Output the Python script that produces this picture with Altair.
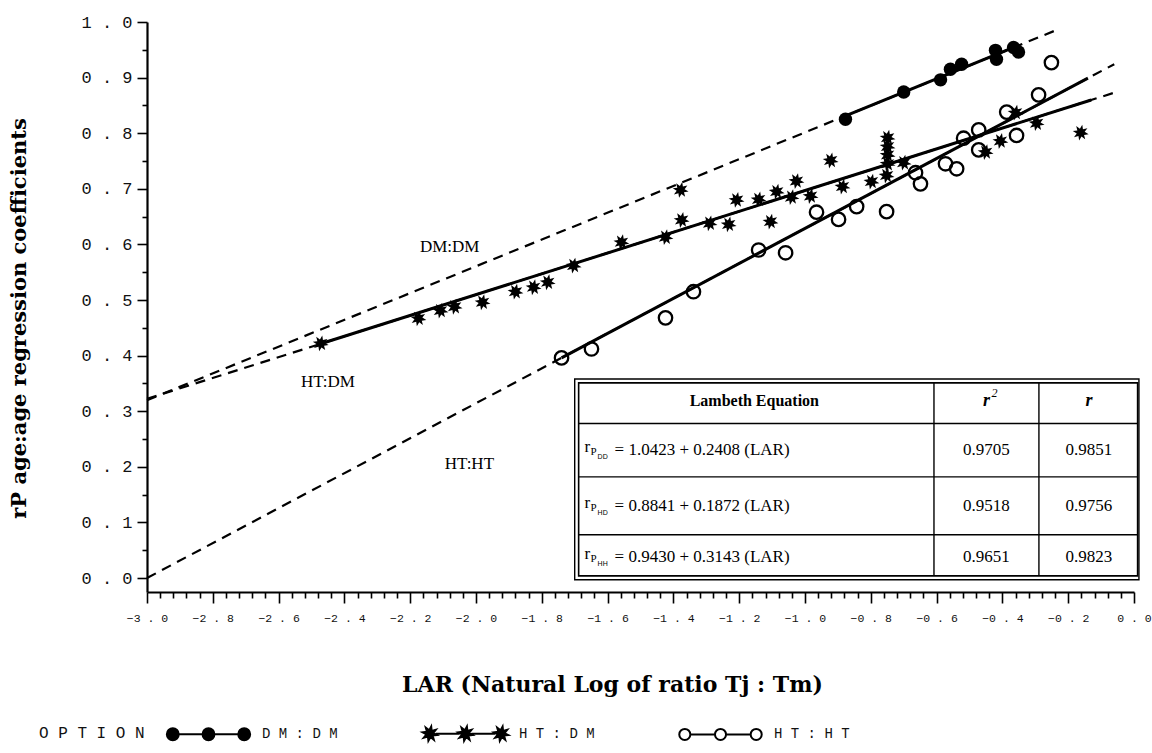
import math
import altair as alt
import pandas as pd

# Series names used by the legend and the Lambeth equations
options = ["DM:DM", "HT:DM", "HT:HT"]

# DM:DM observations (LAR, rP age:age)
dm_lar = [-0.877, -0.700, -0.588, -0.558, -0.524, -0.421, -0.418, -0.366, -0.351]
dm_r = [0.825, 0.874, 0.896, 0.915, 0.924, 0.949, 0.933, 0.954, 0.946]

# HT:DM observations
htdm_lar = [-2.472, -2.175, -2.108, -2.065, -1.980, -1.880, -1.825, -1.782, -1.703,
            -1.558, -1.424, -1.378, -1.375, -1.290, -1.232, -1.208, -1.141, -1.105,
            -1.086, -1.026, -1.041, -0.983, -0.922, -0.886, -0.798, -0.749, -0.749,
            -0.749, -0.749, -0.752, -0.700, -0.451, -0.406, -0.296, -0.162, -0.360]
htdm_r = [0.422, 0.467, 0.481, 0.488, 0.496, 0.515, 0.523, 0.532, 0.562,
          0.604, 0.613, 0.698, 0.644, 0.638, 0.636, 0.680, 0.681, 0.641,
          0.695, 0.714, 0.685, 0.687, 0.751, 0.704, 0.713, 0.792, 0.776,
          0.761, 0.745, 0.724, 0.747, 0.766, 0.786, 0.818, 0.801, 0.837]

# HT:HT observations
htht_lar = [-1.740, -1.649, -1.424, -1.339, -1.141, -1.059, -0.965, -0.898, -0.843,
            -0.752, -0.664, -0.649, -0.573, -0.539, -0.518, -0.472, -0.472, -0.387,
            -0.357, -0.290, -0.251]
htht_r = [0.396, 0.412, 0.468, 0.515, 0.590, 0.585, 0.658, 0.645, 0.668,
          0.659, 0.729, 0.709, 0.745, 0.736, 0.791, 0.806, 0.770, 0.838,
          0.796, 0.869, 0.927]

# Lambeth equations  r = a + b * LAR
eq_a = [1.0423, 0.8841, 0.9430]
eq_b = [0.2408, 0.1872, 0.3143]
eq_r2 = ["0.9705", "0.9518", "0.9651"]
eq_r = ["0.9851", "0.9756", "0.9823"]
eq_sub = ["DD", "HD", "HH"]

# extent of each fitted line: solid over the observed range, dashed as extrapolation
fit_start = [-0.877, -2.472, -1.740]
fit_end = [-0.351, -0.13, -0.14]
dash_end = [-0.24, -0.06, -0.06]

# ---------------------------------------------------------------- tables
points = {
    "DM:DM": pd.DataFrame({"lar": dm_lar, "r": dm_r}),
    "HT:DM": pd.DataFrame({"lar": htdm_lar, "r": htdm_r}),
    "HT:HT": pd.DataFrame({"lar": htht_lar, "r": htht_r}),
}

dash_rows, solid_rows = [], []
for name, a, b, s, e, d in zip(options, eq_a, eq_b, fit_start, fit_end, dash_end):
    for x in (-3.0, d):
        dash_rows.append({"option": name, "lar": x, "r": a + b * x})
    for x in (s, e):
        solid_rows.append({"option": name, "lar": x, "r": a + b * x})
dash_df = pd.DataFrame(dash_rows)
solid_df = pd.DataFrame(solid_rows)

# ---------------------------------------------------------------- axes
x_ticks = [round(-3.0 + 0.04 * i, 2) for i in range(76)]
y_ticks = [round(0.05 * i, 2) for i in range(21)]
x_major = "abs(datum.value * 5 - round(datum.value * 5)) < 0.001"
y_major = "abs(datum.value * 10 - round(datum.value * 10)) < 0.001"

x_axis = alt.Axis(
    title="LAR (Natural Log of ratio Tj : Tm)",
    values=x_ticks,
    tickSize={"condition": {"test": x_major, "value": 11}, "value": 6},
    labelExpr=f"{x_major} ? replace(replace(format(datum.value, '.1f'), '.', ' . '), '-', '- ') : ''",
    labelFont="Liberation Mono", labelFontSize=11.5, labelColor="#111",
    labelPadding=9, labelOverlap=False, labelFlush=False, labelBound=False,
    grid=False, domainColor="black", domainWidth=2, tickColor="black", tickWidth=1.6,
    titleFont="DejaVu Serif", titleFontSize=22, titleFontWeight="bold", titleColor="black",
    titleX=465, titleY=92, titleAlign="center", titleBaseline="middle",
)
y_axis = alt.Axis(
    title="rP age:age regression coefficients",
    values=y_ticks,
    tickSize={"condition": {"test": y_major, "value": 10}, "value": 5},
    labelExpr=f"{y_major} ? replace(format(datum.value, '.1f'), '.', ' . ') : ''",
    labelFont="Liberation Mono", labelFontSize=17, labelColor="#111",
    labelPadding=5, labelOverlap=False, labelFlush=False, labelBound=False,
    grid=False, domainColor="black", domainWidth=2.2, tickColor="black", tickWidth=1.6,
    titleFont="DejaVu Serif", titleFontSize=21, titleFontWeight="bold", titleColor="black",
    titleX=-128, titleY=296, titleAlign="center", titleBaseline="middle", titleAngle=270,
)

X = alt.X("lar:Q", scale=alt.Scale(domain=[-3.0, 0.0], nice=False, zero=False), axis=x_axis)
Y = alt.Y("r:Q", scale=alt.Scale(domain=[-0.025, 1.0], nice=False, zero=False), axis=y_axis)

# ---------------------------------------------------------------- symbols
def star(cx, r_out, r_in):
    pts = []
    for k in range(16):
        ang = k * math.pi / 8 + math.pi / 16
        rad = r_out if k % 2 == 0 else r_in
        pts.append(f"{cx + rad * math.cos(ang):.3f},{rad * math.sin(ang):.3f}")
    return "M" + "L".join(pts) + "Z"


def ring(cx, r):
    return f"M{cx - r:.3f},0A{r},{r} 0 1,0 {cx + r:.3f},0A{r},{r} 0 1,0 {cx - r:.3f},0Z"


STAR = star(0, 1.0, 0.5)
centres = [-0.84, 0.0, 0.84]
joins = "M-0.70,0L-0.14,0M0.14,0L0.70,0"
legend_shapes = [
    joins + "".join(ring(c, 0.14) for c in centres),
    joins + "".join(star(c, 0.17, 0.08) for c in centres),
    joins + "".join(ring(c, 0.13) for c in centres),
]

# ---------------------------------------------------------------- layers
dashed = alt.Chart(dash_df).mark_line(
    color="black", strokeWidth=2.2, strokeDash=[10, 7]
).encode(x=X, y=Y, detail="option:N")

solid = alt.Chart(solid_df).mark_line(
    color="black", strokeWidth=3
).encode(x=X, y=Y, detail="option:N")

dm_layer = alt.Chart(points["DM:DM"]).mark_point(
    shape="circle", filled=True, color="black", size=180, opacity=1
).encode(x=X, y=Y)

htdm_layer = alt.Chart(points["HT:DM"]).mark_point(
    shape=STAR, filled=True, color="black", size=260, opacity=1
).encode(x=X, y=Y)

htht_layer = alt.Chart(points["HT:HT"]).mark_point(
    shape="circle", filled=False, color="black", strokeWidth=2.3, size=180, opacity=1
).encode(x=X, y=Y)

# curve names written beside the lines
curve_labels = pd.DataFrame({
    "lar": [-2.08, -2.45, -2.02],
    "r": [0.595, 0.352, 0.205],
    "txt": ["DM:DM", "HT:DM", "HT:HT"],
})
curve_text = alt.Chart(curve_labels).mark_text(
    font="Liberation Serif", fontSize=17, color="black"
).encode(x=X, y=Y, text="txt:N")

# ---------------------------------------------------------------- equation table
TX = [-1.70, -0.608, -0.289, 0.015]
TY = [0.358, 0.278, 0.182, 0.078, -0.003]

frame = pd.DataFrame({"lar": [TX[0]], "lar2": [TX[-1]], "r": [TY[-1]], "r2": [TY[0]]})
frame_inner = pd.DataFrame({"lar": [TX[0] + 0.012], "lar2": [TX[-1] - 0.004],
                            "r": [TY[-1] + 0.007], "r2": [TY[0] - 0.007]})
outer = alt.Chart(frame).mark_rect(fill="white", stroke="black", strokeWidth=1.4).encode(
    x=X, x2="lar2:Q", y=Y, y2="r2:Q")
inner = alt.Chart(frame_inner).mark_rect(fill=None, stroke="black", strokeWidth=1.6).encode(
    x=X, x2="lar2:Q", y=Y, y2="r2:Q")

vlines = pd.DataFrame({"lar": TX[1:3], "r": [TY[-1] + 0.007] * 2, "r2": [TY[0] - 0.007] * 2})
hlines = pd.DataFrame({"lar": [TX[0] + 0.012] * 3, "lar2": [TX[-1] - 0.004] * 3, "r": TY[1:4]})
vrules = alt.Chart(vlines).mark_rule(color="black", strokeWidth=1.4).encode(x=X, y=Y, y2="r2:Q")
hrules = alt.Chart(hlines).mark_rule(color="black", strokeWidth=1.4).encode(x=X, x2="lar2:Q", y=Y)

row_mid = [(TY[i] + TY[i + 1]) / 2 for i in range(1, 4)]
col_mid = [(TX[i] + TX[i + 1]) / 2 for i in range(3)]
head_mid = (TY[0] + TY[1]) / 2

head_df = pd.DataFrame({"lar": [col_mid[0]], "r": [head_mid], "txt": ["Lambeth Equation"]})
head = alt.Chart(head_df).mark_text(
    font="Liberation Serif", fontSize=16, fontWeight="bold", color="black"
).encode(x=X, y=Y, text="txt:N")

rsym_df = pd.DataFrame({"lar": col_mid[1:], "r": [head_mid] * 2, "txt": ["r", "r"]})
rsym = alt.Chart(rsym_df).mark_text(
    font="Liberation Serif", fontSize=18, fontStyle="italic", fontWeight="bold", color="black"
).encode(x=X, y=Y, text="txt:N")
sq_df = pd.DataFrame({"lar": [col_mid[1]], "r": [head_mid], "txt": ["2"]})
sq = alt.Chart(sq_df).mark_text(
    font="Liberation Serif", fontSize=12, fontStyle="italic", color="black", dx=8, dy=-8
).encode(x=X, y=Y, text="txt:N")

eq_left = TX[0] + 0.03
eq_rows = pd.DataFrame({
    "lar": [eq_left] * 3,
    "r": row_mid,
    "r_txt": ["r"] * 3,
    "p_txt": ["P"] * 3,
    "sub": eq_sub,
    "body": [f"=  {a:.4f}  +  {b:.4f}  (LAR)" for a, b in zip(eq_a, eq_b)],
})
r_main = alt.Chart(eq_rows).mark_text(
    font="Liberation Serif", fontSize=17, color="black", align="left", dy=-3
).encode(x=X, y=Y, text="r_txt:N")
r_p = alt.Chart(eq_rows).mark_text(
    font="Liberation Serif", fontSize=11, color="black", align="left", dx=6, dy=2
).encode(x=X, y=Y, text="p_txt:N")
r_sub = alt.Chart(eq_rows).mark_text(
    font="Liberation Sans", fontSize=7, color="black", align="left", dx=13, dy=7
).encode(x=X, y=Y, text="sub:N")
r_body = alt.Chart(eq_rows).mark_text(
    font="Liberation Serif", fontSize=17, color="black", align="left", dx=30
).encode(x=X, y=Y, text="body:N")

vals_df = pd.DataFrame({
    "lar": [col_mid[1]] * 3 + [col_mid[2]] * 3,
    "r": row_mid + row_mid,
    "txt": eq_r2 + eq_r,
})
vals = alt.Chart(vals_df).mark_text(
    font="Liberation Serif", fontSize=17, color="black"
).encode(x=X, y=Y, text="txt:N")

# ---------------------------------------------------------------- legend
legend_df = pd.DataFrame({"option": options})
legend_cfg = alt.Legend(
    title="O P T I O N", orient="none", legendX=-108, legendY=668, direction="horizontal",
    titleOrient="left", titleFont="Liberation Mono", titleFontSize=16, titleFontWeight="normal",
    titleColor="#111", titlePadding=20, titleAnchor="middle",
    titleBaseline="line-top", titleLineHeight=32,
    labelFont="Liberation Mono", labelFontSize=14, labelColor="#111",
    labelExpr="join(split(datum.label, ''), ' ')", labelOffset=10,
    symbolSize=7225, symbolStrokeWidth=2,
    columnPadding=80, padding=0,
)
legend_layer = alt.Chart(legend_df).mark_point(
    filled=True, strokeWidth=2, opacity=1
).encode(
    shape=alt.Shape("option:N", scale=alt.Scale(domain=options, range=legend_shapes), legend=legend_cfg),
    fill=alt.Fill("option:N", scale=alt.Scale(domain=options, range=["black", "black", "white"]),
                  legend=legend_cfg),
    stroke=alt.Stroke("option:N", scale=alt.Scale(domain=options, range=["black", "black", "black"]),
                      legend=legend_cfg),
).transform_filter("false")

chart = alt.layer(
    dashed, solid,
    outer, inner, vrules, hrules, head, rsym, sq, r_main, r_p, r_sub, r_body, vals,
    htht_layer, htdm_layer, dm_layer, curve_text, legend_layer,
).properties(
    width=987, height=570,
    padding={"left": 147, "top": 22, "right": 18, "bottom": 161},
    autosize=alt.AutoSizeParams(type="none"),
    background="white",
).configure_view(stroke=None)

chart.save("out.html", embed_options={"renderer": "svg", "actions": False})
